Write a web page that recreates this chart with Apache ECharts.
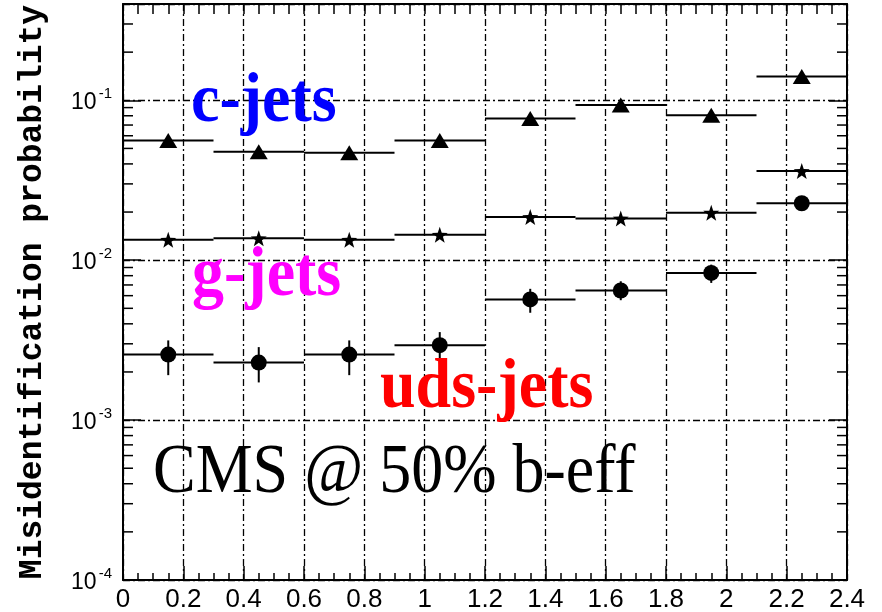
<!DOCTYPE html>
<html><head><meta charset="utf-8">
<script src="https://cdn.jsdelivr.net/npm/echarts@6/dist/echarts.min.js"></script>
<style>html,body{margin:0;padding:0;background:#fff}#c{width:882px;height:612px}</style>
</head><body><div id="c"></div>
<script>
// ---- data ----
const binEdges   = [0, 0.3, 0.6, 0.9, 1.2, 1.5, 1.8, 2.1, 2.4];
const binCenters = [0.15, 0.45, 0.75, 1.05, 1.35, 1.65, 1.95, 2.25];
const cJets      = [0.056, 0.0476, 0.047, 0.056, 0.077, 0.0935, 0.0806, 0.141];
const gJets      = [0.0134, 0.0137, 0.0134, 0.0144, 0.0186, 0.0182, 0.0198, 0.0361];
const udsJets    = [0.00257, 0.00229, 0.00257, 0.00294, 0.00568, 0.00646, 0.00832, 0.0227];
const udsLow     = [0.00191, 0.00172, 0.00191, 0.00226, 0.00469, 0.00562, 0.00721, 0.0215];
const udsHigh    = [0.00315, 0.00286, 0.00315, 0.00355, 0.00662, 0.00738, 0.00938, 0.0240];
const xTickLabels = ['0','0.2','0.4','0.6','0.8','1','1.2','1.4','1.6','1.8','2','2.2','2.4'];
const yExponents  = ['-4','-3','-2','-1'];
const yMinorTicks = [2e-4,3e-4,4e-4,5e-4,6e-4,7e-4,8e-4,9e-4,
                     2e-3,3e-3,4e-3,5e-3,6e-3,7e-3,8e-3,9e-3,
                     2e-2,3e-2,4e-2,5e-2,6e-2,7e-2,8e-2,9e-2,
                     2e-1,3e-1];

const chart = echarts.init(document.getElementById('c'), null, {renderer:'canvas'});
const gridDash = [7,3,2,3];

function binSeries(vals, lo, hi) {
  return {
    type:'custom', xAxisIndex:0, yAxisIndex:0, z:3, silent:true,
    data: vals.map((v,i)=>[binEdges[i], binEdges[i+1], v, lo?lo[i]:v, hi?hi[i]:v, binCenters[i]]),
    encode:{x:[0,1], y:[2,3,4]},
    renderItem(params, api){
      const a = api.coord([api.value(0), api.value(2)]);
      const b = api.coord([api.value(1), api.value(2)]);
      const ch = [{type:'line', shape:{x1:a[0],y1:a[1],x2:b[0],y2:b[1]}, style:{stroke:'#000', lineWidth:2}}];
      if (lo) {
        const p = api.coord([api.value(5), api.value(3)]);
        const q = api.coord([api.value(5), api.value(4)]);
        ch.push({type:'line', shape:{x1:p[0],y1:p[1],x2:q[0],y2:q[1]}, style:{stroke:'#000', lineWidth:2}});
      }
      return {type:'group', children:ch};
    }
  };
}
function markerSeries(vals, symbol, size) {
  return {
    type:'scatter', xAxisIndex:0, yAxisIndex:0, z:4, silent:true,
    symbol, symbolSize:size, itemStyle:{color:'#000', opacity:1},
    data: vals.map((v,i)=>[binCenters[i], v])
  };
}
const starPath = 'path://M0,-10 L2.35,-3.24 L9.51,-3.09 L3.8,1.24 L5.88,8.09 L0,4 L-5.88,8.09 L-3.8,1.24 L-9.51,-3.09 L-2.35,-3.24 Z';

const minorTickSeries = {
  type:'custom', xAxisIndex:0, yAxisIndex:0, z:5, silent:true,
  data: yMinorTicks.map(v=>[0, v]),
  encode:{y:1},
  renderItem(params, api){
    const cs = params.coordSys;
    const p = api.coord([0, api.value(1)]);
    return {type:'group', children:[
      {type:'line', shape:{x1:cs.x, y1:p[1], x2:cs.x+10, y2:p[1]}, style:{stroke:'#000', lineWidth:1.5}},
      {type:'line', shape:{x1:cs.x+cs.width-10, y1:p[1], x2:cs.x+cs.width, y2:p[1]}, style:{stroke:'#000', lineWidth:1.5}}
    ]};
  }
};

function textEl(str, left, baseline, color, weight) {
  return {
    type:'text', x:left, y:baseline, scaleY:1.1, z:10,
    style:{text:str, x:0, y:10.4, verticalAlign:'bottom', textAlign:'left',
      font: weight + ' 64px "Liberation Serif"', fill:color}
  };
}

const option = {
  backgroundColor:'#fff',
  animation:false,
  grid:{left:123, right:35, top:4, bottom:32, containLabel:false, outerBoundsMode:'none'},
  xAxis:[{
    type:'value', min:0, max:2.4, interval:0.2, position:'bottom',
    axisLine:{show:true, onZero:false, lineStyle:{color:'#000', width:2}},
    axisTick:{show:true, inside:true, length:14, lineStyle:{color:'#000', width:1.5}},
    minorTick:{show:true, splitNumber:4, length:7, lineStyle:{color:'#000', width:1.5}},
    axisLabel:{color:'#000', fontFamily:'"Liberation Sans"', fontSize:26, margin:7,
      formatter:(v)=>{ const i=Math.round(v/0.2); return xTickLabels[i] || ''; }},
    splitLine:{show:true, lineStyle:{color:'#000', width:1.3, type:gridDash}}
  },{
    type:'value', min:0, max:2.4, interval:0.2, position:'top',
    axisLine:{show:true, onZero:false, lineStyle:{color:'#000', width:2}},
    axisTick:{show:true, inside:true, length:10, lineStyle:{color:'#000', width:1.5}},
    minorTick:{show:true, splitNumber:4, length:10, lineStyle:{color:'#000', width:1.5}},
    axisLabel:{show:false}, splitLine:{show:false}
  }],
  yAxis:[{
    type:'log', logBase:10, min:1e-4, max:0.4, position:'left',
    name:'Misidentification probability', nameLocation:'middle', nameGap:74,
    nameTextStyle:{color:'#000', fontFamily:'"Liberation Mono"', fontWeight:'bold', fontSize:33},
    axisLine:{show:true, onZero:false, lineStyle:{color:'#000', width:2}},
    axisTick:{show:true, inside:true, length:18, lineStyle:{color:'#000', width:1.5}},
    axisLabel:{color:'#000', margin:11,
      formatter:(v)=>{
        const e = Math.log10(v); const r = Math.round(e);
        if (Math.abs(e-r) > 1e-6) return '';
        const idx = yExponents.indexOf(String(r));
        return idx < 0 ? '' : '{b|10}{s|' + yExponents[idx] + '}';
      },
      rich:{
        b:{fontFamily:'"Liberation Sans"', fontSize:23, color:'#000', verticalAlign:'bottom', lineHeight:28, padding:[0,2,0,0]},
        s:{fontFamily:'"Liberation Sans"', fontSize:15, color:'#000', verticalAlign:'top', lineHeight:28}
      }},
    splitLine:{show:true, lineStyle:{color:'#000', width:1.3, type:gridDash}}
  },{
    type:'log', logBase:10, min:1e-4, max:0.4, position:'right',
    axisLine:{show:true, onZero:false, lineStyle:{color:'#000', width:2}},
    axisTick:{show:true, inside:true, length:18, lineStyle:{color:'#000', width:1.5}},
    axisLabel:{show:false}, splitLine:{show:false}
  }],
  series:[
    binSeries(cJets), binSeries(gJets), binSeries(udsJets, udsLow, udsHigh),
    markerSeries(cJets, 'triangle', [18,15]),
    markerSeries(gJets, starPath, 16),
    markerSeries(udsJets, 'circle', 16),
    minorTickSeries
  ],
  graphic:[
    textEl('c-jets', 191, 127, '#0000ff', 'bold'),
    textEl('g-jets', 192, 301, '#ff00ff', 'bold'),
    textEl('uds-jets', 380, 413, '#ff0000', 'bold'),
    textEl('CMS @ 50% b-eff', 153, 497, '#000000', 'normal')
  ]
};
chart.setOption(option);
</script></body></html>
